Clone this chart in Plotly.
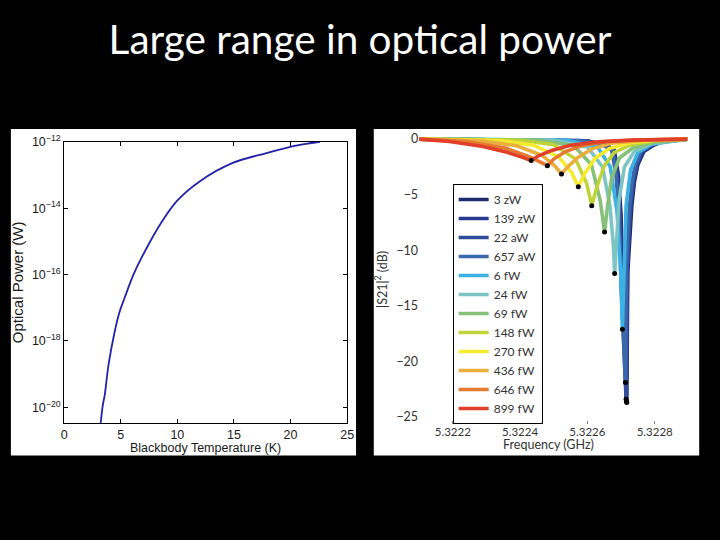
import numpy as np
import plotly.graph_objects as go

# ---------------- left panel: blackbody temperature vs optical power
temp_k = [3.23, 3.42, 3.58, 3.92, 4.45, 4.88, 5.32, 6.19, 7.35, 8.52, 9.97, 12.0, 14.9, 17.8, 20.7, 22.6]
power_w = [3.4e-21, 1.2e-20, 2.3e-20, 1.9e-19, 1.8e-18, 7.2e-18, 1.9e-17, 1.12e-16, 6.9e-16,
           3.4e-15, 1.66e-14, 6.5e-14, 2.3e-13, 4.5e-13, 7.9e-13, 1.0e-12]
power_tickvals = [1e-20, 1e-18, 1e-16, 1e-14, 1e-12]
power_ticktext = ["10<sup>\u221220</sup>", "10<sup>\u221218</sup>", "10<sup>\u221216</sup>",
                  "10<sup>\u221214</sup>", "10<sup>\u221212</sup>"]

# ---------------- right panel: |S21|^2 resonance dips for each optical load
labels = ["3 zW", "139 zW", "22 aW", "657 aW", "6 fW", "24 fW", "69 fW",
          "148 fW", "270 fW", "436 fW", "646 fW", "899 fW"]
colors = ["#1d2a6b", "#28398e", "#2f4d9a", "#3b68ad", "#3bb2e3", "#7dc4c2", "#86c17a",
          "#c0d43a", "#f6ea2c", "#e9ae3c", "#e57a31", "#e0402a"]

freq_3zw = [5.322100, 5.322600, 5.322660, 5.322680, 5.322692, 5.322700, 5.322706, 5.322712, 5.322717,
            5.322720, 5.322726, 5.322732, 5.322740, 5.322750, 5.322768, 5.322798, 5.322822, 5.322897]
s21_3zw = [0, -0.15, -0.6, -1.0, -3.2, -6.8, -14.0, -20.0, -23.7,
           -12.0, -8.2, -6.0, -3.8, -2.3, -1.12, -0.53, -0.24, 0]
freq_139zw = [5.322100, 5.322598, 5.322658, 5.322678, 5.322690, 5.322698, 5.322704, 5.322710, 5.322716,
              5.322719, 5.322724, 5.322730, 5.322738, 5.322748, 5.322765, 5.322795, 5.322820, 5.322897]
s21_139zw = [0, -0.15, -0.6, -1.0, -3.2, -6.8, -14.0, -20.0, -23.6,
             -12.0, -8.2, -6.0, -3.8, -2.3, -1.12, -0.53, -0.24, 0]
freq_22aw = [5.322100, 5.322595, 5.322655, 5.322676, 5.322688, 5.322696, 5.322702, 5.322709, 5.322715,
             5.322718, 5.322723, 5.322728, 5.322736, 5.322746, 5.322762, 5.322792, 5.322818, 5.322897]
s21_22aw = [0, -0.15, -0.6, -1.0, -3.2, -6.8, -14.0, -20.0, -23.4,
            -12.0, -8.2, -6.0, -3.8, -2.3, -1.12, -0.53, -0.24, 0]
freq_657aw = [5.322100, 5.322590, 5.322650, 5.322672, 5.322685, 5.322694, 5.322700, 5.322707, 5.322713,
              5.322716, 5.322720, 5.322725, 5.322733, 5.322742, 5.322758, 5.322788, 5.322815, 5.322897]
s21_657aw = [0, -0.15, -0.6, -1.0, -3.2, -6.8, -13.0, -18.0, -21.9,
             -11.5, -8.0, -6.0, -3.8, -2.3, -1.12, -0.53, -0.24, 0]
freq_6fw = [5.322100, 5.322540, 5.322630, 5.322668, 5.322688, 5.322699, 5.322704,
            5.322709, 5.322715, 5.322728, 5.322750, 5.322790, 5.322897]
s21_6fw = [0, -0.1, -0.7, -2.5, -6.5, -12.0, -17.1, -10.5, -6.0, -2.8, -1.2, -0.45, 0]
freq_24fw = [5.322100, 5.322500, 5.322600, 5.322645, 5.322667, 5.322677, 5.322681,
             5.322687, 5.322694, 5.322710, 5.322740, 5.322790, 5.322897]
s21_24fw = [0, -0.08, -0.7, -2.5, -6.0, -9.5, -12.09, -8.5, -5.5, -2.5, -1.1, -0.4, 0]
freq_69fw = [5.322100, 5.322450, 5.322560, 5.322612, 5.322638, 5.322651,
             5.322660, 5.322672, 5.322695, 5.322735, 5.322795, 5.322897]
s21_69fw = [0, -0.08, -0.6, -2.3, -5.5, -8.35, -6.0, -3.5, -1.7, -0.8, -0.3, 0]
freq_148fw = [5.322100, 5.322400, 5.322500, 5.322565, 5.322598, 5.322613,
              5.322628, 5.322650, 5.322680, 5.322730, 5.322800, 5.322897]
s21_148fw = [0, -0.1, -0.5, -1.8, -4.0, -5.99, -4.3, -2.4, -1.2, -0.5, -0.15, 0]
freq_270fw = [5.322100, 5.322340, 5.322440, 5.322515, 5.322553, 5.322573,
              5.322592, 5.322622, 5.322665, 5.322730, 5.322810, 5.322897]
s21_270fw = [0, -0.15, -0.55, -1.6, -3.0, -4.28, -3.1, -1.75, -0.85, -0.3, -0.08, 0]
freq_436fw = [5.322100, 5.322290, 5.322390, 5.322465, 5.322503, 5.322523,
              5.322543, 5.322572, 5.322612, 5.322670, 5.322770, 5.322897]
s21_436fw = [0, -0.18, -0.6, -1.45, -2.4, -3.13, -2.45, -1.65, -0.9, -0.38, -0.09, 0]
freq_646fw = [5.322100, 5.322240, 5.322355, 5.322425, 5.322462, 5.322481,
              5.322500, 5.322535, 5.322585, 5.322650, 5.322750, 5.322897]
s21_646fw = [0, -0.22, -0.8, -1.55, -2.1, -2.39, -1.8, -1.12, -0.58, -0.24, -0.08, 0]
freq_899fw = [5.322100, 5.322190, 5.322290, 5.322358, 5.322405, 5.322433,
              5.322455, 5.322494, 5.322550, 5.322630, 5.322730, 5.322897]
s21_899fw = [0, -0.22, -0.66, -1.15, -1.62, -1.92, -1.5, -1.02, -0.55, -0.25, -0.09, 0]

freqs = [freq_3zw, freq_139zw, freq_22aw, freq_657aw, freq_6fw, freq_24fw,
         freq_69fw, freq_148fw, freq_270fw, freq_436fw, freq_646fw, freq_899fw]
s21s = [s21_3zw, s21_139zw, s21_22aw, s21_657aw, s21_6fw, s21_24fw,
        s21_69fw, s21_148fw, s21_270fw, s21_436fw, s21_646fw, s21_899fw]

W, H = 720, 540


def px(x):
    return x / W


def py(y):
    return 1 - y / H


fig = go.Figure()

fig.add_trace(go.Scatter(
    x=temp_k, y=power_w, mode="lines", line=dict(color="#2222aa", width=1.8, shape="spline"),
    showlegend=False, xaxis="x", yaxis="y",
))

for lab, col, f, s in zip(labels, colors, freqs, s21s):
    fig.add_trace(go.Scatter(
        x=f, y=s, mode="lines", name=lab, line=dict(color=col, width=3.6),
        xaxis="x2", yaxis="y2",
    ))

# black dots at each resonance minimum
dip_f = [f[int(np.argmin(s))] for f, s in zip(freqs, s21s)]
dip_s = [min(s) for s in s21s]
fig.add_trace(go.Scatter(
    x=dip_f, y=dip_s, mode="markers", marker=dict(color="black", size=5),
    showlegend=False, xaxis="x2", yaxis="y2",
))

left_font = dict(family="Liberation Sans, Arial", size=12.5, color="#1a1a1a")
right_font = dict(family="Lato, Open Sans", size=11.5, color="#333333")

fig.update_layout(
    width=W, height=H,
    paper_bgcolor="black", plot_bgcolor="rgba(0,0,0,0)",
    margin=dict(l=0, r=0, t=0, b=0),
    title=dict(text="Large range in optical power", x=0.5, xanchor="center",
               y=py(40), yanchor="middle",
               font=dict(family="Lato", size=40.5, color="white")),
    shapes=[
        dict(type="rect", xref="paper", yref="paper", x0=px(8), x1=px(358), y0=py(454), y1=py(122),
             fillcolor="white", line_width=0, layer="below"),
        dict(type="rect", xref="paper", yref="paper", x0=px(376), x1=px(706), y0=py(454), y1=py(122),
             fillcolor="white", line_width=0, layer="below"),
    ],
    annotations=[
        dict(text="Blackbody Temperature (K)", xref="paper", yref="paper", x=px(205), y=py(446),
             xanchor="center", yanchor="middle", showarrow=False, font=left_font),
        dict(text="Frequency (GHz)", xref="paper", yref="paper", x=px(553), y=py(443),
             xanchor="center", yanchor="middle", showarrow=False, font=dict(right_font, size=12.5)),
    ],
    xaxis=dict(domain=[px(62), px(349)], anchor="y", range=[0, 25], tickvals=[0, 5, 10, 15, 20, 25],
               showline=True, linecolor="black", linewidth=1, mirror="ticks",
               ticks="inside", ticklen=4, tickcolor="black", showgrid=False, zeroline=False,
               tickfont=left_font),
    yaxis=dict(domain=[py(421), py(135)], anchor="x", type="log", range=[-20.47, -12],
               tickvals=power_tickvals, ticktext=power_ticktext,
               showline=True, linecolor="black", linewidth=1, mirror="ticks",
               ticks="inside", ticklen=4, tickcolor="black", showgrid=False, zeroline=False,
               tickfont=left_font, title=dict(text="Optical Power (W)", font=dict(left_font, size=15), standoff=4)),
    xaxis2=dict(domain=[px(422), px(695)], anchor="y2", range=[5.3221, 5.3229],
                tickvals=[5.3222, 5.3224, 5.3226, 5.3228], ticktext=["5.3222", "5.3224", "5.3226", "5.3228"],
                showline=False, ticks="inside", ticklen=3, tickcolor="#888888",
                showgrid=False, zeroline=False, tickfont=right_font),
    yaxis2=dict(domain=[py(422), py(128)], anchor="x2", range=[-25.62, 0.38],
                tickvals=[0, -5, -10, -15, -20, -25], showline=False, ticks="",
                showgrid=False, zeroline=False, tickfont=dict(right_font, size=12.5),
                title=dict(text="|S21|<sup>2</sup> (dB)", font=dict(right_font, size=12.5), standoff=6)),
    yaxis3=dict(overlaying="y2", anchor="x2", side="right", range=[-25.62, 0.38],
                tickvals=[-10, -15, -20], showticklabels=False, ticks="inside", ticklen=4,
                tickcolor="black", showline=True, linecolor="black", linewidth=1,
                showgrid=False, zeroline=False),
    legend=dict(x=px(456), y=py(178), xanchor="left", yanchor="top",
                bgcolor="white", bordercolor="black", borderwidth=1,
                font=dict(family="Lato, Open Sans", size=12, color="#333333"),
                itemwidth=30, tracegroupgap=0),
)

fig.write_html(
    "out.html",
    config={"displayModeBar": False},
    post_script="document.body.style.margin='0px';document.body.style.background='black';",
)
